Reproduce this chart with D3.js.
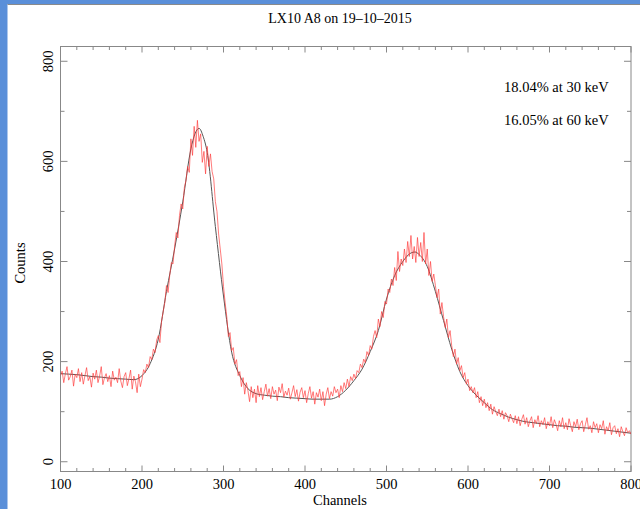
<!DOCTYPE html>
<html><head><meta charset="utf-8">
<script src="https://cdn.jsdelivr.net/npm/d3@7"></script>
<style>
html,body{margin:0;padding:0;background:#5a8fd9;}
svg{display:block;}
text{font-family:"Liberation Serif","Times New Roman",serif;fill:#000;}
</style></head><body>
<svg id="c" width="640" height="509"></svg>
<script>
// channels of the measured spectrum: 100..800 step 2
const chStart = 100, chStep = 2;
const counts = [
172,181,158,176,190,163,170,183,151,175,
168,186,160,178,155,172,188,162,170,149,
177,165,183,158,171,190,154,168,176,160,
172,150,181,163,169,158,186,161,148,170,
178,152,166,183,145,171,160,138,175,150,
165,184,178,195,188,210,204,225,218,243,
252,238,281,300,318,352,338,372,398,395,
430,458,447,492,515,505,548,562,590,578,
645,612,670,628,682,640,655,598,620,575,
630,590,615,580,565,520,500,455,425,395,
350,318,290,250,258,222,228,195,204,172,
180,150,168,135,158,142,120,150,128,145,
118,152,130,148,124,140,155,131,146,126,
150,135,143,122,149,138,156,129,141,133,
147,125,138,152,130,144,121,139,148,128,
142,118,136,150,127,140,115,138,129,145,
122,140,112,135,148,126,140,131,150,138,
145,128,152,140,158,146,165,150,170,162,
175,166,182,178,195,188,205,198,220,212,
232,225,250,262,248,285,270,300,288,320,
315,345,338,365,352,388,362,420,380,405,
392,425,398,440,410,452,405,430,398,448,
410,438,400,458,395,425,372,400,360,375,
352,328,345,295,318,290,268,285,248,262,
232,210,225,195,208,182,192,168,178,155,
165,142,150,138,148,128,140,118,130,112,
125,108,118,102,115,95,110,100,92,105,
90,102,85,98,92,80,95,86,78,92,
76,90,72,85,94,75,88,70,82,90,
68,84,76,92,70,82,74,88,66,80,
72,90,68,84,75,62,82,70,88,66,
78,64,86,72,60,80,70,85,64,76,
82,60,74,88,65,72,58,80,68,76,
58,74,66,82,55,70,62,78,54,68,
72,56,66,50,70,60,52,68,58,62,
55
];
// fitted curve
const fitCh = [100,110,120,130,140,150,160,170,180,190,200,210,220,230,240,250,260,265,270,275,280,290,300,310,320,330,340,350,360,370,380,390,400,410,420,430,440,450,460,470,480,490,500,510,520,530,535,540,550,560,570,580,590,600,610,620,630,640,650,660,670,680,690,700,710,720,730,740,750,760,770,780,790,800];
const fitVal = [176,175,174,172,170,169,167,166,165,164,172,196,245,340,425,519,625,655,666,650,618,470,331,219,172,146,136,133,131,130,128,127,126,125,125,125,130,143,162,185,220,262,325,372,400,417,419,414,390,340,282,225,180,152,133,118,104,96,89,84,80,78,76,74,72,71,69,68,67,65,63,61,59,57];
const xTicks = [100,200,300,400,500,600,700,800];
const yTicks = [0,200,400,600,800];
const title = "LX10 A8 on 19\u201310\u20132015";
const notes = ["18.04% at 30 keV","16.05% at 60 keV"];

const svg = d3.select("#c");
svg.append("rect").attr("x",7.5).attr("y",4).attr("width",640).attr("height",509).attr("fill","#fff");
svg.append("line").attr("x1",7.5).attr("x2",640).attr("y1",4.5).attr("y2",4.5).attr("stroke","#8a8a8a").attr("stroke-width",1);

const L=60.5,R=631,T=46.5,B=471.5;
const x = d3.scaleLinear().domain([100,800]).range([L,R]);
const y = d3.scaleLinear().domain([-19.5,829.5]).range([B,T]);

const g = svg.append("g");
const axisCol="#888";
g.append("rect").attr("x",L).attr("y",T).attr("width",R-L).attr("height",B-T).attr("fill","none").attr("stroke",axisCol).attr("stroke-width",1);

const xMinor = d3.range(100,801,20);
const yMinor = d3.range(0,801,100);
xMinor.forEach(v=>{
  const major = v%100===0, len = major?6:3.5;
  g.append("line").attr("x1",x(v)).attr("x2",x(v)).attr("y1",B).attr("y2",B-len).attr("stroke",axisCol);
  g.append("line").attr("x1",x(v)).attr("x2",x(v)).attr("y1",T).attr("y2",T+len).attr("stroke",axisCol);
});
yMinor.forEach(v=>{
  const major = v%200===0, len = major?7:4;
  g.append("line").attr("y1",y(v)).attr("y2",y(v)).attr("x1",L).attr("x2",L+len).attr("stroke",axisCol);
  g.append("line").attr("y1",y(v)).attr("y2",y(v)).attr("x1",R).attr("x2",R-len).attr("stroke",axisCol);
});
xTicks.forEach(v=>{
  g.append("text").attr("x",x(v)).attr("y",489).attr("text-anchor","middle").attr("font-size",14.5).text(v);
});
yTicks.forEach(v=>{
  g.append("text").attr("transform",`translate(52.5,${y(v)}) rotate(-90)`).attr("text-anchor","middle").attr("font-size",14.5).text(v);
});

svg.append("clipPath").attr("id","clp").append("rect").attr("x",L).attr("y",T).attr("width",R-L).attr("height",B-T);
const fit = fitCh.map((c,i)=>[c,fitVal[i]]);
g.append("path").datum(fit).attr("clip-path","url(#clp)")
  .attr("d",d3.line().curve(d3.curveMonotoneX).x(d=>x(d[0])).y(d=>y(d[1])))
  .attr("fill","none").attr("stroke","#555").attr("stroke-width",1);
const data = counts.map((c,i)=>[chStart+i*chStep,c]);
g.append("path").datum(data).attr("clip-path","url(#clp)")
  .attr("d",d3.line().x(d=>x(d[0])).y(d=>y(d[1])))
  .attr("fill","none").attr("stroke","#ff3a3a").attr("stroke-opacity",0.75).attr("stroke-width",0.9);

svg.append("text").attr("x",340).attr("y",23).attr("text-anchor","middle").attr("font-size",14).text(title);
svg.append("text").attr("x",340).attr("y",505).attr("text-anchor","middle").attr("font-size",14.5).text("Channels");
svg.append("text").attr("transform","translate(25,263) rotate(-90)").attr("text-anchor","middle").attr("font-size",14.5).text("Counts");
notes.forEach((t,i)=>{
  svg.append("text").attr("x",504).attr("y",92+i*33).attr("font-size",14.5).text(t);
});
</script>
</body></html>
